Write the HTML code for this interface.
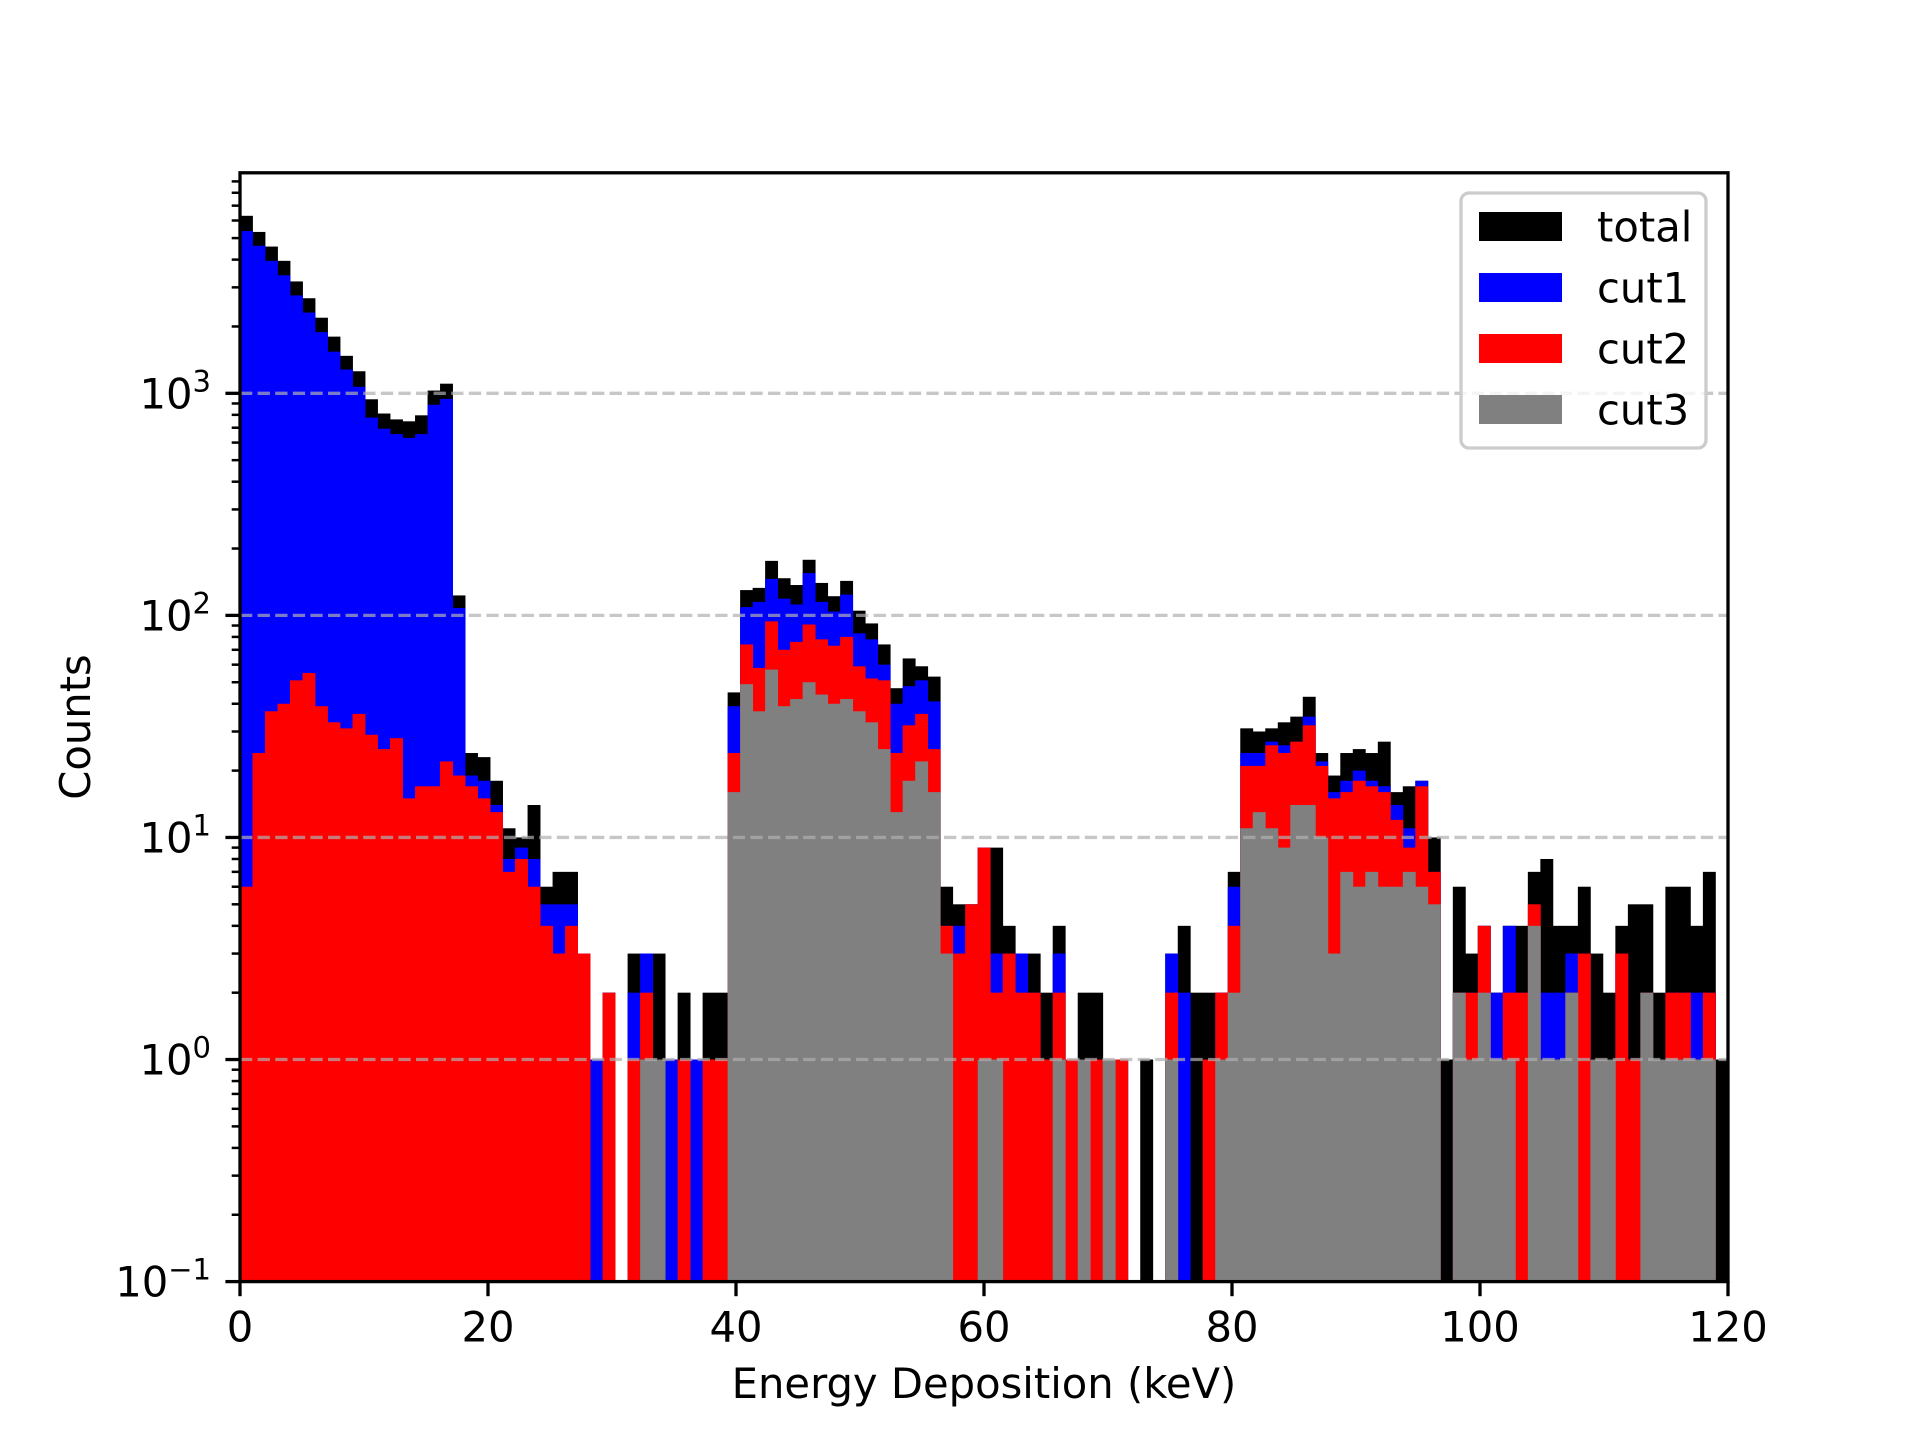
<!DOCTYPE html>
<html><head><meta charset="utf-8"><title>Energy Deposition Histogram</title>
<style>
html,body{margin:0;padding:0;background:#fff;}
svg{display:block;font-family:"DejaVu Sans","Liberation Sans",sans-serif;}
</style></head>
<body>
<svg id="chart" width="1920" height="1440" viewBox="0 0 1920 1440" xmlns="http://www.w3.org/2000/svg">
<defs><clipPath id="plotclip"><rect x="240" y="172.8" width="1488" height="1108.8"/></clipPath></defs>
<rect x="0" y="0" width="1920" height="1440" fill="#fff"/>
<g id="bars" clip-path="url(#plotclip)"></g>
<g id="grid"></g>
<g id="axes"></g>
<text x="984" y="1398" font-size="41.7" text-anchor="middle" fill="#000">Energy Deposition (keV)</text>
<text x="0" y="0" font-size="41.7" text-anchor="middle" fill="#000" transform="translate(90,727) rotate(-90)">Counts</text>
<g id="legend"></g>
</svg>
<script>
// ---- data (counts per bin, 120 bins of width 121/120 keV starting at 0) ----
const binStart = 0;
const binWidth = 121/120;
const seriesNames = ["total","cut1","cut2","cut3"];
const seriesColors = ["#000000","#0000ff","#ff0000","#808080"];
const total = [6300,5330,4580,3950,3190,2680,2190,1800,1475,1257,940,811,763,748,796,1029,1105,123,24,23,
 18,11,10,14,6,7,7,3,1,2,0,3,3,3,1,2,1,2,2,45,
 130,133,176,147,137,178,140,122,143,105,92,74,47,64,59,53,6,5,5,9,
 9,4,3,3,2,4,1,2,2,1,1,0,1,0,3,4,2,2,2,7,
 31,30,31,33,35,43,24,19,24,25,24,27,16,17,18,10,1,6,3,4,
 2,4,4,7,8,4,4,6,3,2,4,5,5,2,6,6,4,7,1,0];
const cut1 = [5380,4620,3950,3400,2760,2310,1885,1540,1280,1070,777,693,655,630,655,888,944,108,19,18,
 14,8,9,8,5,5,5,3,1,2,0,2,3,1,1,1,1,1,1,39,
 109,115,146,119,112,155,115,104,124,83,78,60,40,48,51,41,4,4,5,9,
 3,3,3,2,1,3,1,1,1,1,1,0,0,0,3,2,0,1,2,6,
 24,24,27,26,27,35,22,16,18,20,18,17,14,11,18,7,0,2,2,4,
 2,4,2,2,2,2,3,3,1,1,3,1,2,1,2,2,2,2,0,0];
const cut2 = [6,24,37,40,51,55,39,33,31,36,29,25,28,15,17,17,22,19,17,15,
 13,7,8,6,4,3,4,3,0,2,0,1,2,1,0,1,0,1,1,24,
 74,58,94,70,76,91,78,73,80,59,52,51,24,32,36,25,4,3,5,9,
 2,3,2,2,1,2,1,1,1,1,1,0,0,0,2,0,0,1,2,4,
 21,21,26,24,27,32,21,15,16,18,17,16,12,9,17,7,0,2,2,4,
 1,2,2,5,1,1,2,3,1,1,3,1,2,1,2,2,1,2,0,0];
const cut3 = [0,0,0,0,0,0,0,0,0,0,0,0,0,0,0,0,0,0,0,0,
 0,0,0,0,0,0,0,0,0,0,0,0,1,1,0,0,0,0,0,16,
 49,37,57,39,42,50,44,40,42,37,33,25,13,18,22,16,3,0,0,1,
 1,0,0,0,0,1,0,1,0,1,0,0,0,0,1,0,0,0,1,2,
 11,13,11,9,14,14,10,3,7,6,7,6,6,7,6,5,0,2,1,2,
 1,1,0,4,1,1,2,0,1,1,0,0,2,1,1,1,1,1,0,0];
const xTicks = [0,20,40,60,80,100,120];
const yTickExps = [-1,0,1,2,3];

// ---- axes ----
const PL = 240, PR = 1728, PT = 172.8, PB = 1281.6;
const XMIN = 0, XMAX = 120, LOGMIN = -1, LOGMAX = 3.993;
function xs(v){ return PL + (v - XMIN) / (XMAX - XMIN) * (PR - PL); }
function ys(v){ return PB - (Math.log10(v) - LOGMIN) / (LOGMAX - LOGMIN) * (PB - PT); }
const NS = "http://www.w3.org/2000/svg";
function mk(tag, attrs, parent){
  const e = document.createElementNS(NS, tag);
  for (const k in attrs) e.setAttribute(k, attrs[k]);
  parent.appendChild(e);
  return e;
}

// ---- bars ----
const barsG = document.getElementById('bars');
const allSeries = [total, cut1, cut2, cut3];
allSeries.forEach(function(arr, si){
  arr.forEach(function(v, i){
    if (!(v > 0)) return;
    const x0 = xs(binStart + i*binWidth), x1 = xs(binStart + (i+1)*binWidth);
    const y0 = ys(v);
    const r = mk('rect', {x: x0, y: y0, width: x1 - x0 + 0.4, height: PB - y0, fill: seriesColors[si]}, barsG);
    
    
  });
});

// ---- grid ----
const gridG = document.getElementById('grid');
yTickExps.forEach(function(e){
  if (e === LOGMIN) return;
  const y = ys(Math.pow(10, e));
  const l = mk('line', {x1: PL, x2: PR, y1: y, y2: y, stroke: '#b0b0b0', 'stroke-width': 3.3, 'stroke-dasharray': '12.3 5.3', opacity: 0.7}, gridG);
  
  
});

// ---- axes, ticks ----
const axG = document.getElementById('axes');
const frame = mk('rect', {x: PL, y: PT, width: PR - PL, height: PB - PT, fill: 'none', stroke: '#000', 'stroke-width': 3.3}, axG);


xTicks.forEach(function(t){
  const x = xs(t);
  const tl = mk('line', {x1: x, x2: x, y1: PB, y2: PB + 14.6, stroke: '#000', 'stroke-width': 3.3}, axG);
  
  
  const tx = mk('text', {x: x, y: PB + 60, 'font-size': 41.7, 'text-anchor': 'middle', fill: '#000'}, axG);
  tx.textContent = String(t);
  
  
});
yTickExps.forEach(function(e){
  const y = ys(Math.pow(10, e));
  const tl = mk('line', {x1: PL - 14.6, x2: PL, y1: y, y2: y, stroke: '#000', 'stroke-width': 3.3}, axG);
  
  
  const tx = mk('text', {x: 211, y: y + 15, 'font-size': 41.7, 'text-anchor': 'end', fill: '#000'}, axG);
  
  
  tx.appendChild(document.createTextNode('10'));
  const sup = document.createElementNS(NS, 'tspan');
  sup.setAttribute('dy', '-17');
  sup.setAttribute('font-size', '29');
  sup.textContent = e < 0 ? '\u2212' + Math.abs(e) : String(e);
  tx.appendChild(sup);
  // minor ticks
  for (let m = 2; m <= 9; m++){
    const v = m * Math.pow(10, e);
    if (Math.log10(v) > LOGMAX) continue;
    const my = ys(v);
    const ml = mk('line', {x1: PL - 8.3, x2: PL, y1: my, y2: my, stroke: '#000', 'stroke-width': 2.5}, axG);
    
    
  }
});

// ---- legend ----
const lg = document.getElementById('legend');
const box = mk('rect', {x: 1461, y: 193, width: 245, height: 255, rx: 8, ry: 8, fill: '#fff', 'fill-opacity': 0.8, stroke: '#cccccc', 'stroke-width': 3.3}, lg);


const rowsY = [226.5, 287.5, 348.5, 409.5];
seriesNames.forEach(function(n, i){
  const p = mk('rect', {x: 1479, y: rowsY[i] - 14.5, width: 83, height: 29, fill: seriesColors[i]}, lg);
  
  
  const t = mk('text', {x: 1597, y: rowsY[i] + 15, 'font-size': 41.7, fill: '#000'}, lg);
  t.textContent = n;
  
  
});
</script>
</body></html>
